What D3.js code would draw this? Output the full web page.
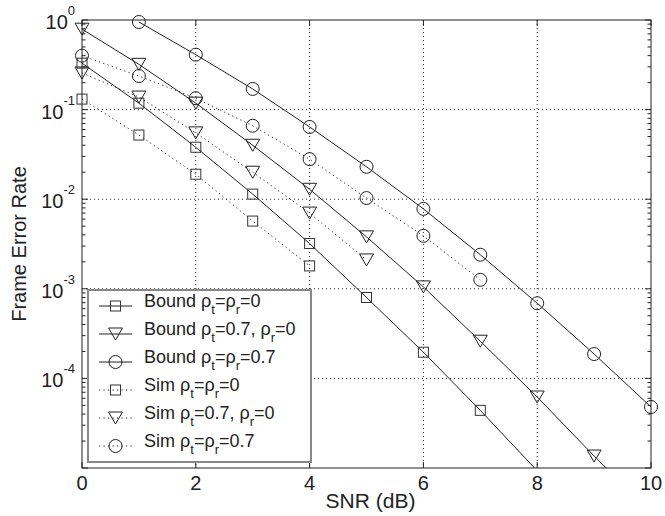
<!DOCTYPE html>
<html>
<head>
<meta charset="utf-8">
<script src="https://cdn.jsdelivr.net/npm/d3@7"></script>
<style>
  body { margin: 0; background: #fff; }
  svg text { font-family: "Liberation Sans", Arial, Helvetica, sans-serif; fill: #222; }
</style>
</head>
<body>
<script>
// data (SNR in dB, frame error rate)
const snr = [0, 1, 2, 3, 4, 5, 6, 7, 8, 9, 10];
const boundSq = [0.33, 0.118, 0.038, 0.0114, 0.0032, 8.0e-4, 1.96e-4, 4.4e-5, 9.3e-6, null, null];
const boundTri = [0.79, 0.32, 0.118, 0.040, 0.0129, 0.0038, 1.05e-3, 2.6e-4, 6.2e-5, 1.36e-5, 3.2e-6];
const boundCirc = [null, 0.95, 0.41, 0.17, 0.064, 0.023, 0.0078, 0.0024, 6.9e-4, 1.87e-4, 4.8e-5];
const simSq = [0.131, 0.052, 0.019, 0.0057, 0.0018, null, null, null, null, null, null];
const simTri = [0.256, 0.138, 0.055, 0.020, 0.0070, 0.0021, null, null, null, null, null];
const simCirc = [0.40, 0.237, 0.134, 0.066, 0.028, 0.0103, 0.0039, 0.00126, null, null, null];

const seriesValues = [boundSq, boundTri, boundCirc, simSq, simTri, simCirc];
const seriesMarkers = ["square", "triangle", "circle", "square", "triangle", "circle"];
const seriesDotted = [false, false, false, true, true, true];
const legendLabels = [
  "Bound ρ_t=ρ_r=0",
  "Bound ρ_t=0.7, ρ_r=0",
  "Bound ρ_t=ρ_r=0.7",
  "Sim ρ_t=ρ_r=0",
  "Sim ρ_t=0.7, ρ_r=0",
  "Sim ρ_t=ρ_r=0.7"
];
const xTicks = [0, 2, 4, 6, 8, 10];
const yTickExps = [0, -1, -2, -3, -4];

const width = 665;
const height = 516;
const margin = {top: 20, right: 14, bottom: 48, left: 82};
const plotW = width - margin.left - margin.right;
const plotH = height - margin.top - margin.bottom;
const ink = "#222";

const svg = d3.select("body").append("svg")
  .attr("width", width)
  .attr("height", height);

const x = d3.scaleLinear().domain([0, 10]).range([0, plotW]);
const y = d3.scaleLog().domain([1e-5, 1]).range([plotH, 0]);

const g = svg.append("g")
  .attr("transform", `translate(${margin.left},${margin.top})`);

g.append("clipPath").attr("id", "clip")
  .append("rect").attr("width", plotW).attr("height", plotH);

// grid
const grid = g.append("g").attr("stroke", ink).attr("stroke-dasharray", "1,3").attr("stroke-width", 1);
grid.selectAll("line.vx")
  .data(xTicks.filter(d => d > 0 && d < 10))
  .enter().append("line")
    .attr("x1", d => x(d)).attr("x2", d => x(d))
    .attr("y1", 0).attr("y2", plotH);
grid.selectAll("line.hy")
  .data(yTickExps.filter(e => e < 0))
  .enter().append("line")
    .attr("x1", 0).attr("x2", plotW)
    .attr("y1", e => y(Math.pow(10, e))).attr("y2", e => y(Math.pow(10, e)));

// ticks, inward on all four sides
const ticks = g.append("g").attr("stroke", ink).attr("stroke-width", 1);
xTicks.forEach(t => {
  ticks.append("line").attr("x1", x(t)).attr("x2", x(t)).attr("y1", plotH).attr("y2", plotH - 6);
  ticks.append("line").attr("x1", x(t)).attr("x2", x(t)).attr("y1", 0).attr("y2", 6);
});
y.ticks().forEach(t => {
  const major = Math.abs(Math.log10(t) - Math.round(Math.log10(t))) < 1e-9;
  const len = major ? 6 : 3.5;
  ticks.append("line").attr("x1", 0).attr("x2", len).attr("y1", y(t)).attr("y2", y(t));
  ticks.append("line").attr("x1", plotW).attr("x2", plotW - len).attr("y1", y(t)).attr("y2", y(t));
});

// series lines
const line = d3.line()
  .defined(d => d[1] !== null)
  .x(d => x(d[0]))
  .y(d => y(d[1]));

const lines = g.append("g").attr("clip-path", "url(#clip)");
seriesValues.forEach((vals, i) => {
  lines.append("path")
    .datum(snr.map((s, j) => [s, vals[j]]))
    .attr("d", line)
    .attr("fill", "none")
    .attr("stroke", ink)
    .attr("stroke-width", 1)
    .attr("stroke-dasharray", seriesDotted[i] ? "1.2,3.3" : null);
});

// marker drawing
function drawMarker(sel, type, cx, cy) {
  if (type === "square") {
    sel.append("rect")
      .attr("x", cx - 5).attr("y", cy - 5).attr("width", 10).attr("height", 10)
      .attr("fill", "none").attr("stroke", "#333").attr("stroke-width", 1);
  } else if (type === "triangle") {
    sel.append("path")
      .attr("d", `M${cx - 7},${cy - 6}L${cx + 7},${cy - 6}L${cx},${cy + 6}Z`)
      .attr("fill", "none").attr("stroke", ink).attr("stroke-width", 1);
  } else {
    sel.append("circle")
      .attr("cx", cx).attr("cy", cy).attr("r", 6.5)
      .attr("fill", "none").attr("stroke", ink).attr("stroke-width", 1);
  }
}

const markers = g.append("g");
seriesValues.forEach((vals, i) => {
  snr.forEach((s, j) => {
    const v = vals[j];
    if (v === null || v < 1e-5 || v > 1) return;
    drawMarker(markers, seriesMarkers[i], x(s), y(v));
  });
});

// axes box
g.append("rect")
  .attr("width", plotW).attr("height", plotH)
  .attr("fill", "none").attr("stroke", ink).attr("stroke-width", 1);

// x tick labels
g.selectAll("text.xt")
  .data(xTicks)
  .enter().append("text")
    .attr("x", d => x(d))
    .attr("y", plotH + 22)
    .attr("text-anchor", "middle")
    .style("font-size", "20px")
    .text(d => d);

// y tick labels 10^e
yTickExps.forEach(e => {
  const ty = y(Math.pow(10, e));
  const t = g.append("text")
    .attr("y", ty + 9)
    .attr("x", -7)
    .attr("text-anchor", "end")
    .style("font-size", "20px");
  t.append("tspan").text("10");
  t.append("tspan").attr("dy", -14).style("font-size", "13px").text(e);
});

// axis labels
svg.append("text")
  .attr("x", margin.left + plotW / 2 + 4)
  .attr("y", 508)
  .attr("text-anchor", "middle")
  .style("font-size", "21px")
  .text("SNR (dB)");

svg.append("text")
  .attr("transform", `translate(26,${margin.top + plotH / 2}) rotate(-90)`)
  .attr("text-anchor", "middle")
  .style("font-size", "20px")
  .text("Frame Error Rate");

// legend
const legend = svg.append("g").attr("transform", "translate(88,290)");
legend.append("rect")
  .attr("width", 223).attr("height", 172)
  .attr("fill", "#fff").attr("stroke", "#888").attr("stroke-width", 2);

// writes "ρ_t" style labels with subscripts
function writeLabel(textSel, label) {
  const parts = label.split(/_(.)/);
  parts.forEach((p, k) => {
    if (k % 2 === 1) {
      textSel.append("tspan").attr("dy", 7).style("font-size", "13px").text(p);
    } else if (p.length) {
      textSel.append("tspan").attr("dy", k > 0 ? -7 : 0).text(p);
    }
  });
}

legendLabels.forEach((lab, i) => {
  const ry = 16 + i * 28;
  legend.append("line")
    .attr("x1", 11).attr("x2", 44).attr("y1", ry).attr("y2", ry)
    .attr("stroke", ink).attr("stroke-width", 1)
    .attr("stroke-dasharray", seriesDotted[i] ? "1.2,3.3" : null);
  drawMarker(legend, seriesMarkers[i], 27.5, ry);
  const t = legend.append("text")
    .attr("x", 56).attr("y", ry + 1)
    .style("font-size", "18px");
  writeLabel(t, lab);
});
</script>
</body>
</html>
